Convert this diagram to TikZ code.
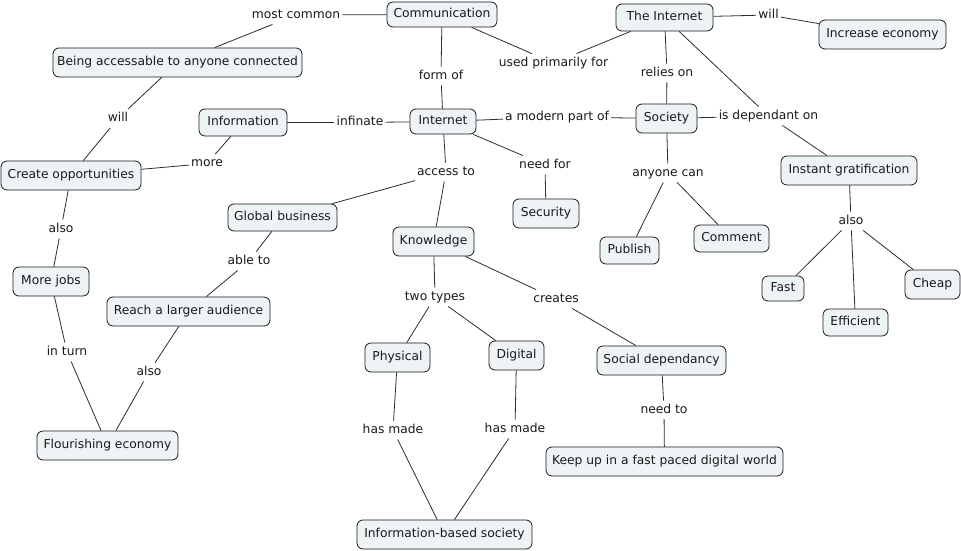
\documentclass[tikz,border=0pt]{standalone}
\usepackage{fontspec}
\setmainfont{DejaVu Sans}
\definecolor{cfill}{HTML}{EEF3F5}
\definecolor{cline}{HTML}{2E2E2E}
\definecolor{ctext}{HTML}{1A1A1A}
\tikzset{
  txt/.style={font=\fontsize{12.3pt}{14pt}\selectfont, text=ctext, text height=9.5pt, text depth=3pt},
  concept/.style 2 args={txt, draw=black!90, fill=cfill, line width=0.8pt, rounded corners=6pt,
     inner sep=0pt, minimum width=#1pt, minimum height=#2pt},
  phrase/.style={txt, fill=white, inner xsep=2pt, inner ysep=3pt},
  link/.style={draw=cline, line width=0.8pt}
}
\begin{document}
\begin{tikzpicture}[x=1pt,y=-1pt]
\useasboundingbox[fill=white] (0,0) rectangle (961,551);
% concepts
\node[concept={110}{25}] (comm) at (442,14.5) {Communication};
\node[concept={97}{27}] (theint) at (664.5,17.5) {The Internet};
\node[concept={127}{29}] (incecon) at (882.5,34.5) {Increase economy};
\node[concept={249}{29}] (being) at (177.5,62.5) {Being accessable to anyone connected};
\node[concept={88}{27}] (info) at (243,122.5) {Information};
\node[concept={66}{25}] (internet) at (443,121.5) {Internet};
\node[concept={61}{29}] (society) at (666.5,118.5) {Society};
\node[concept={140}{29}] (createop) at (71,175.5) {Create opportunities};
\node[concept={136}{29}] (instant) at (849,170.5) {Instant gratification};
\node[concept={109}{27}] (global) at (282.5,217.5) {Global business};
\node[concept={66}{29}] (security) at (546,213.5) {Security};
\node[concept={81}{29}] (knowledge) at (433.5,241.5) {Knowledge};
\node[concept={59}{27}] (publish) at (629.5,250.5) {Publish};
\node[concept={75}{27}] (comment) at (731.5,238.5) {Comment};
\node[concept={76}{29}] (morejobs) at (51,281.5) {More jobs};
\node[concept={42}{25}] (fast) at (783,288.5) {Fast};
\node[concept={55}{29}] (cheap) at (932.5,284.5) {Cheap};
\node[concept={65}{27}] (efficient) at (855.5,322.5) {Efficient};
\node[concept={163}{29}] (reach) at (188.5,311.5) {Reach a larger audience};
\node[concept={65}{29}] (physical) at (397.5,357.5) {Physical};
\node[concept={55}{29}] (digital) at (516.5,355.5) {Digital};
\node[concept={129}{29}] (socdep) at (661.5,360.5) {Social dependancy};
\node[concept={141}{29}] (flour) at (107.5,445.5) {Flourishing economy};
\node[concept={237}{29}] (keepup) at (664.5,461.5) {Keep up in a fast paced digital world};
\node[concept={175}{29}] (infosoc) at (444.5,534.5) {Information-based society};
% linking phrases
\node[phrase] (mc) at (296,15) {most common};
\node[phrase] (used) at (553.5,63) {used primarily for};
\node[phrase] (will1) at (768.5,15) {will};
\node[phrase] (formof) at (441,76) {form of};
\node[phrase] (relies) at (667,73) {relies on};
\node[phrase] (will2) at (118,118.5) {will};
\node[phrase] (infinate) at (360,122.5) {infinate};
\node[phrase] (modern) at (557,117) {a modern part of};
\node[phrase] (isdep) at (768.5,116) {is dependant on};
\node[phrase] (more) at (207,163.5) {more};
\node[phrase] (access) at (446,172) {access to};
\node[phrase] (needfor) at (545,165) {need for};
\node[phrase] (anyone) at (668,173) {anyone can};
\node[phrase] (also1) at (851,221) {also};
\node[phrase] (also2) at (61,229) {also};
\node[phrase] (ableto) at (249,261) {able to};
\node[phrase] (twotypes) at (435,297) {two types};
\node[phrase] (creates) at (556,299) {creates};
\node[phrase] (inturn) at (67,352) {in turn};
\node[phrase] (also3) at (149,372) {also};
\node[phrase] (hasmade1) at (393,430) {has made};
\node[phrase] (hasmade2) at (515,429) {has made};
\node[phrase] (needto) at (664,410) {need to};
% connectors
\draw[link] (comm) -- (mc);
\draw[link] (mc) -- (being);
\draw[link] (comm) -- (used);
\draw[link] (used) -- (theint);
\draw[link] (comm) -- (formof);
\draw[link] (formof) -- (internet);
\draw[link] (theint) -- (will1);
\draw[link] (will1) -- (incecon);
\draw[link] (theint) -- (relies);
\draw[link] (relies) -- (society);
\draw[link] (theint) -- (isdep);
\draw[link] (society) -- (isdep);
\draw[link] (isdep) -- (instant);
\draw[link] (being) -- (will2);
\draw[link] (will2) -- (createop);
\draw[link] (info) -- (infinate);
\draw[link] (infinate) -- (internet);
\draw[link] (info) -- (more);
\draw[link] (more) -- (createop);
\draw[link] (internet) -- (modern);
\draw[link] (modern) -- (society);
\draw[link] (internet) -- (access);
\draw[link] (access) -- (global);
\draw[link] (access) -- (knowledge);
\draw[link] (internet) -- (needfor);
\draw[link] (needfor) -- (security);
\draw[link] (society) -- (anyone);
\draw[link] (anyone) -- (publish);
\draw[link] (anyone) -- (comment);
\draw[link] (instant) -- (also1);
\draw[link] (also1) -- (fast);
\draw[link] (also1) -- (efficient);
\draw[link] (also1) -- (cheap);
\draw[link] (createop) -- (also2);
\draw[link] (also2) -- (morejobs);
\draw[link] (global) -- (ableto);
\draw[link] (ableto) -- (reach);
\draw[link] (morejobs) -- (inturn);
\draw[link] (inturn) -- (flour);
\draw[link] (reach) -- (also3);
\draw[link] (also3) -- (flour);
\draw[link] (knowledge) -- (twotypes);
\draw[link] (twotypes) -- (physical);
\draw[link] (twotypes) -- (digital);
\draw[link] (knowledge) -- (creates);
\draw[link] (creates) -- (socdep);
\draw[link] (physical) -- (hasmade1);
\draw[link] (hasmade1) -- (infosoc);
\draw[link] (digital) -- (hasmade2);
\draw[link] (hasmade2) -- (infosoc);
\draw[link] (socdep) -- (needto);
\draw[link] (needto) -- (keepup);
\end{tikzpicture}
\end{document}
